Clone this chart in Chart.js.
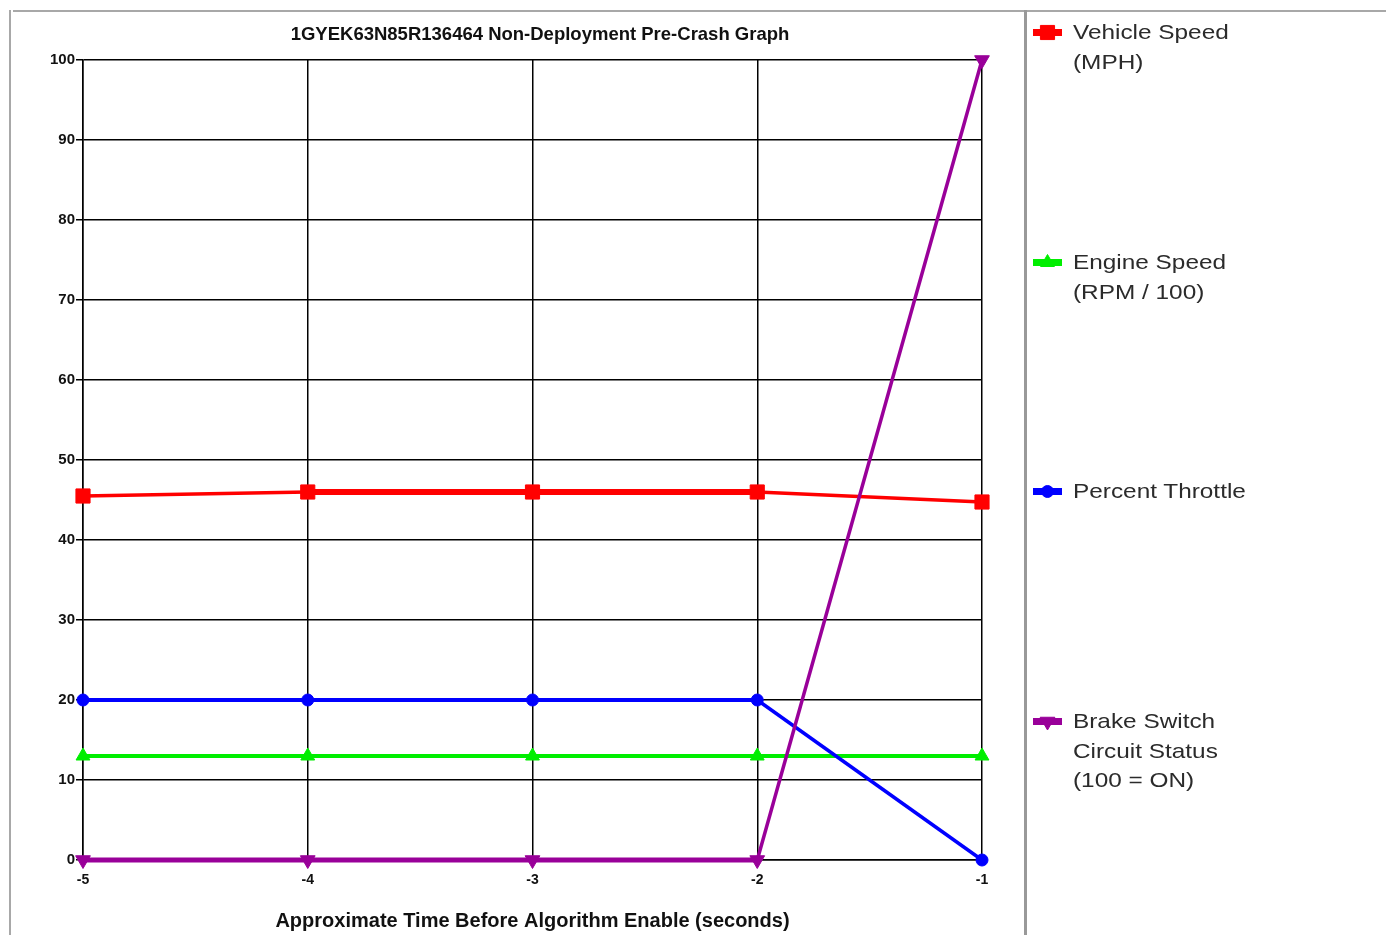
<!DOCTYPE html>
<html>
<head>
<meta charset="utf-8">
<script src="https://cdn.jsdelivr.net/npm/chart.js@4.4.1/dist/chart.umd.min.js"></script>
<style>
  html, body { margin: 0; padding: 0; background: #fff; }
  body { width: 1386px; height: 935px; position: relative; overflow: hidden; font-family: "Liberation Sans", Arial, sans-serif; }
  #chartBox { position: absolute; left: 0; top: 0; width: 1386px; height: 935px; }
  .frame { position: absolute; background: #a8a8a8; }
  #chartTitle { position: absolute; left: 240px; width: 600px; top: 23px; text-align: center; font-weight: bold; font-size: 18.5px; line-height: 22px; color: #111; white-space: nowrap; }
  .legendItem { position: absolute; left: 1032px; }
  .legendItem canvas { position: absolute; left: 0; top: 4px; }
  .legendItem div { position: absolute; left: 41px; top: 0; font-size: 21px; line-height: 29.5px; color: #2b2b2b; white-space: nowrap; transform: scaleX(1.16); transform-origin: left top; }
</style>
</head>
<body>
<div id="chartBox"><canvas id="crash_chart" width="1386" height="935"></canvas></div>
<div class="frame" style="left:13px; top:10px; width:1373px; height:2px;"></div>
<div class="frame" style="left:9px; top:10px; width:2px; height:925px;"></div>
<div class="frame" style="left:1024px; top:10px; width:3px; height:925px; background:#999;"></div>
<div id="chartTitle">1GYEK63N85R136464 Non-Deployment Pre-Crash Graph</div>
<div id="legend"></div>
<script>
const times = [-5, -4, -3, -2, -1];
const vehicleSpeed = [45.5, 46, 46, 46, 44.75];
const engineSpeed = [13, 13, 13, 13, 13];
const percentThrottle = [20, 20, 20, 20, 0];
const brakeStatus = [0, 0, 0, 0, 100];
const seriesNames = [
    ["Vehicle Speed", "(MPH)"],
    ["Engine Speed", "(RPM / 100)"],
    ["Percent Throttle"],
    ["Brake Switch", "Circuit Status", "(100 = ON)"]
];
const yTicks = [0, 10, 20, 30, 40, 50, 60, 70, 80, 90, 100];

function displayCrashChart() {
    const toPoints = (vals) => times.map((t, i) => ({ x: t, y: vals[i] }));
    const flatWidth = (flat, sloped) => (c) => c.p0.parsed.y === c.p1.parsed.y ? flat : sloped;

    const styles = [
        { color: "#ff0000", style: "rect", radius: 10, rotation: 0, flat: 6, sloped: 3.5 },
        { color: "#00ee00", style: "triangle", radius: 8, rotation: 0, flat: 4, sloped: 4 },
        { color: "#0000ff", style: "circle", radius: 6, rotation: 0, flat: 4, sloped: 3.5 },
        { color: "#990099", style: "triangle", radius: 8.5, rotation: 180, flat: 5, sloped: 3.5 }
    ];
    const values = [vehicleSpeed, engineSpeed, percentThrottle, brakeStatus];

    const datasets = values.map((vals, i) => {
        const s = styles[i];
        return {
            label: seriesNames[i].join(" "),
            data: toPoints(vals),
            borderColor: s.color,
            backgroundColor: s.color,
            pointBackgroundColor: s.color,
            pointBorderColor: s.color,
            pointStyle: s.style,
            pointRadius: s.radius,
            pointRotation: s.rotation,
            pointBorderWidth: 1,
            borderWidth: s.sloped,
            segment: { borderWidth: flatWidth(s.flat, s.sloped) },
            tension: 0,
            clip: false,
            order: 4 - i
        };
    });

    const ctx = document.getElementById("crash_chart").getContext("2d");
    new Chart(ctx, {
        type: 'line',
        data: { datasets: datasets },
        options: {
            responsive: false, animation: false,
            layout: { padding: { left: 13, right: 404, top: 60, bottom: 0 } },
            plugins: {
                legend: { display: false },
                tooltip: { enabled: false },
                title: { display: false }
            },
            scales: {
                x: {
                    type: 'linear', min: -5, max: -1,
                    ticks: { stepSize: 1, color: '#111', padding: 12, font: { family: 'Liberation Sans', size: 14, weight: 'bold' } },
                    grid: { color: '#000', lineWidth: 1.5, drawTicks: false },
                    border: { color: '#000', width: 1.5 },
                    title: {
                        display: true,
                        text: 'Approximate Time Before Algorithm Enable (seconds)',
                        color: '#111',
                        font: { family: 'Liberation Sans', size: 20, weight: 'bold' },
                        padding: { top: 0, bottom: 2 }
                    },
                    afterFit: (s) => { s.height = 75; }
                },
                y: {
                    min: 0, max: 100,
                    afterBuildTicks: (s) => { s.ticks = yTicks.map(v => ({ value: v })); },
                    ticks: { color: '#111', padding: 1, font: { family: 'Liberation Sans', size: 15, weight: 'bold' } },
                    grid: { color: '#000', lineWidth: 1.5, tickLength: 7 },
                    border: { color: '#000', width: 1.5 },
                    afterFit: (s) => { s.width = 70; }
                }
            }
        }
    });

    // legend on the right
    const legend = document.getElementById("legend");
    const tops = [17, 247, 476, 706];
    seriesNames.forEach((lines, i) => {
        const s = styles[i];
        const item = document.createElement("div");
        item.className = "legendItem";
        item.style.top = tops[i] + "px";
        const ic = document.createElement("canvas");
        ic.width = 32; ic.height = 24;
        const c = ic.getContext("2d");
        c.fillStyle = s.color; c.strokeStyle = s.color;
        c.fillRect(1, 8, 29, 7);
        if (Chart.helpers && Chart.helpers.drawPoint) {
            Chart.helpers.drawPoint(c, { pointStyle: s.style, radius: s.radius, rotation: s.rotation, borderWidth: 1 }, 15.5, 11.5);
        }
        const txt = document.createElement("div");
        txt.innerHTML = lines.join("<br>");
        item.appendChild(ic);
        item.appendChild(txt);
        legend.appendChild(item);
    });
}

displayCrashChart();
</script>
</body>
</html>
